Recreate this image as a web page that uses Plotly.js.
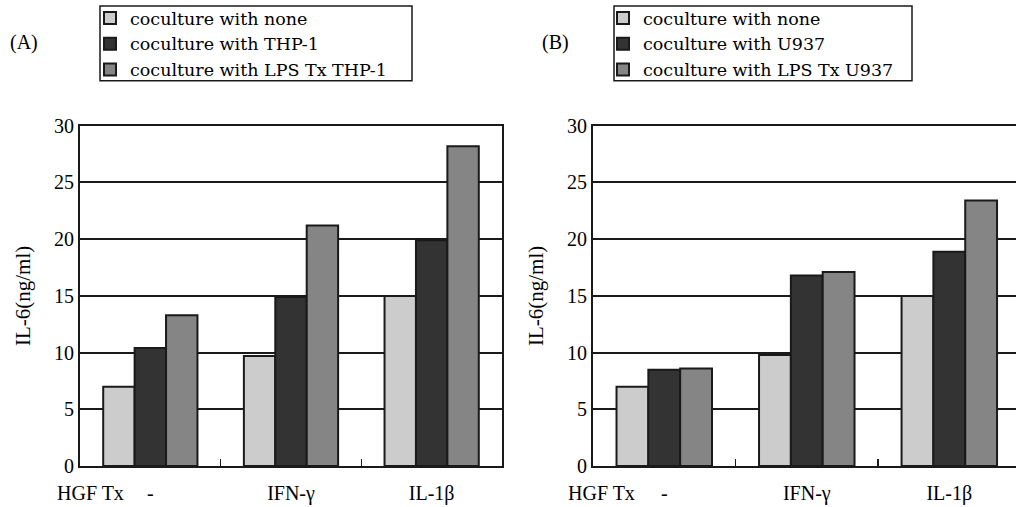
<!DOCTYPE html>
<html>
<head>
<meta charset="utf-8">
<script src="https://cdn.plot.ly/plotly-3.0.1.min.js"></script>
<style>
  html, body { margin: 0; padding: 0; background: #fff; }
  #chart { width: 1016px; height: 507px; }
</style>
</head>
<body>
<div id="chart"></div>
<script>
// ---- data ----
const categories = ['-', 'IFN-γ', 'IL-1β'];
const seriesNamesA = ['coculture with none', 'coculture with THP-1', 'coculture with LPS Tx THP-1'];
const seriesNamesB = ['coculture with none', 'coculture with U937', 'coculture with LPS Tx U937'];
const A_none = [7.0, 9.7, 15.0];
const A_thp1 = [10.4, 14.9, 19.9];
const A_lps  = [13.3, 21.2, 28.2];
const B_none = [7.0, 9.8, 15.0];
const B_u937 = [8.5, 16.8, 18.9];
const B_lps  = [8.6, 17.1, 23.4];
const yTicks = [0, 5, 10, 15, 20, 25, 30];

// ---- styles ----
const FONT = 'Liberation Serif, Times New Roman, serif';
const LFONT = 'DejaVu Serif, Liberation Serif, serif';
const colors = ['#cccccc', '#333333', '#858585'];
const ink = '#1a1a1a';

function bars(vals, names, xa, ya, leg) {
  return vals.map((v, i) => ({
    type: 'bar',
    x: categories,
    y: v,
    name: names[i],
    xaxis: xa,
    yaxis: ya,
    legend: leg,
    marker: { color: colors[i], line: { color: ink, width: 2 } },
    hoverinfo: 'skip'
  }));
}

const data = [
  ...bars([A_none, A_thp1, A_lps], seriesNamesA, 'x', 'y', 'legend'),
  ...bars([B_none, B_u937, B_lps], seriesNamesB, 'x2', 'y2', 'legend2')
];

const W = 1016, H = 507;
const yBottom = (H - 466) / H, yTop = (H - 125) / H;

function xAxis(domain, range, mirror) {
  return {
    domain: domain,
    range: range,
    type: 'category',
    showline: true, linecolor: ink, linewidth: 2,
    mirror: mirror,
    ticks: 'inside', tickson: 'boundaries', ticklen: 7, tickwidth: 1.5, tickcolor: ink,
    tickfont: { family: FONT, size: 20, color: '#000' },
    ticklabelstandoff: 8,
    showgrid: false, zeroline: false, fixedrange: true
  };
}
function yAxis(anchor, mirror) {
  return {
    domain: [yBottom, yTop],
    anchor: anchor,
    range: [0, 30],
    tickvals: yTicks,
    showline: true, linecolor: ink, linewidth: 2,
    mirror: mirror,
    ticks: '',
    showgrid: true, gridcolor: ink, gridwidth: 2,
    zeroline: false,
    tickfont: { family: FONT, size: 20, color: '#000' },
    title: { text: 'IL-6(ng/ml)', font: { family: FONT, size: 21, color: '#000' }, standoff: 18 },
    automargin: false, fixedrange: true
  };
}

const legendStyle = (x) => ({
  x: x, y: 1 + 1 / H, xanchor: 'left', yanchor: 'top',
  xref: 'paper', yref: 'paper',
  bgcolor: 'rgba(0,0,0,0)', borderwidth: 0,
  font: { family: LFONT, size: 17.5, color: '#000' },
  tracegroupgap: 0, itemclick: false, itemdoubleclick: false
});

function box(x0, x1) {
  return {
    type: 'rect', xref: 'paper', yref: 'paper',
    x0: x0 / W, x1: x1 / W, y0: 1 - 80 / H, y1: 1 - 5 / H,
    line: { color: ink, width: 1.5 }, fillcolor: 'rgba(0,0,0,0)', layer: 'above'
  };
}

const layout = {
  width: W, height: H,
  margin: { l: 0, r: 0, t: 0, b: 0 },
  paper_bgcolor: '#fff', plot_bgcolor: '#fff',
  font: { family: FONT, color: '#000' },
  barmode: 'group', bargap: 0.33, bargroupgap: 0,
  showlegend: true,
  xaxis: xAxis([80 / W, 502 / W], [-0.5, 2.5], true),
  yaxis: yAxis('x', true),
  xaxis2: xAxis([593 / W, 1], [-0.5, 2.468], true),
  yaxis2: yAxis('x2', false),
  legend: legendStyle(90 / W),
  legend2: legendStyle(603 / W),
  shapes: [box(100, 412), box(614, 912)],
  annotations: [
    { text: '(A)', xref: 'paper', yref: 'paper', x: 8 / W, y: 1 - 42 / H, xanchor: 'left', yanchor: 'middle', showarrow: false, font: { family: FONT, size: 20, color: '#000' } },
    { text: '(B)', xref: 'paper', yref: 'paper', x: 540 / W, y: 1 - 42 / H, xanchor: 'left', yanchor: 'middle', showarrow: false, font: { family: FONT, size: 20, color: '#000' } },
    { text: 'HGF Tx', xref: 'paper', yref: 'paper', x: 55 / W, y: 1 - 493 / H, xanchor: 'left', yanchor: 'middle', showarrow: false, font: { family: FONT, size: 20, color: '#000' } },
    { text: 'HGF Tx', xref: 'paper', yref: 'paper', x: 566 / W, y: 1 - 493 / H, xanchor: 'left', yanchor: 'middle', showarrow: false, font: { family: FONT, size: 20, color: '#000' } }
  ]
};

Plotly.newPlot('chart', data, layout, { displayModeBar: false, staticPlot: true });
</script>
</body>
</html>
